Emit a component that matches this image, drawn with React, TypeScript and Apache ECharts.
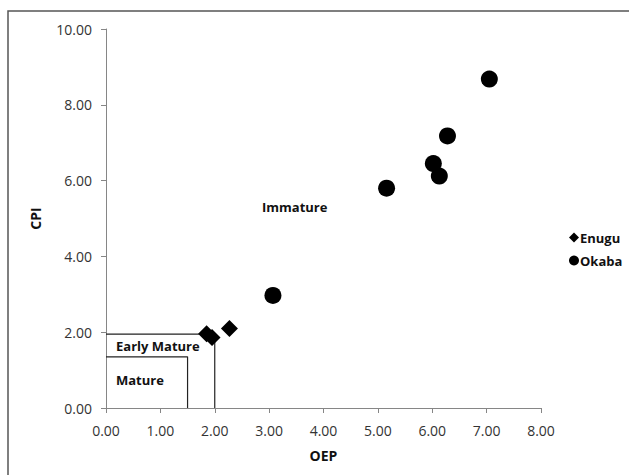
import React, { useEffect, useRef } from "react";
import * as echarts from "echarts";

// Sample points (OEP, CPI)
const enuguPoints: number[][] = [
  [1.85, 1.96],
  [1.95, 1.86],
  [2.27, 2.1],
];
const okabaPoints: number[][] = [
  [3.07, 2.97],
  [5.16, 5.8],
  [6.02, 6.45],
  [6.13, 6.12],
  [6.28, 7.18],
  [7.05, 8.68],
];

// Maturity zone boundaries
const earlyMatureBoundary: number[][] = [
  [0, 1.95],
  [2.0, 1.95],
  [2.0, 0],
];
const matureBoundary: number[][] = [
  [0, 1.35],
  [1.5, 1.35],
  [1.5, 0],
];

const xTicks = { min: 0, max: 8, interval: 1 };
const yTicks = { min: 0, max: 10, interval: 2 };

const FONT = "'Open Sans', sans-serif";

export default function App() {
  const ref = useRef<HTMLDivElement>(null);

  useEffect(() => {
    if (!ref.current) return;
    const chart = echarts.init(ref.current, undefined, { renderer: "svg" });
    const axisLine = { show: true, lineStyle: { color: "#868686", width: 1 } };
    const tick = { show: true, length: 5, inside: false, lineStyle: { color: "#868686" } };
    const tickLabel = {
      formatter: (v: number) => v.toFixed(2),
      fontFamily: FONT,
      fontSize: 14,
      color: "#333",
    };
    const titleStyle = { fontFamily: FONT, fontSize: 14, fontWeight: "bold", color: "#111" };
    chart.setOption({
      animation: false,
      backgroundColor: "#ffffff",
      grid: { left: 106, right: 88, top: 29, bottom: 67 },
      xAxis: {
        type: "value",
        ...xTicks,
        name: "OEP",
        nameLocation: "middle",
        nameGap: 40,
        nameTextStyle: titleStyle,
        axisLine,
        axisTick: tick,
        axisLabel: { ...tickLabel, margin: 15 },
        splitLine: { show: false },
      },
      yAxis: {
        type: "value",
        ...yTicks,
        name: "CPI",
        nameLocation: "middle",
        nameGap: 64,
        nameRotate: 90,
        nameTextStyle: titleStyle,
        axisLine,
        axisTick: tick,
        axisLabel: { ...tickLabel, margin: 14 },
        splitLine: { show: false },
      },
      legend: {
        orient: "vertical",
        left: 564,
        top: 226,
        itemWidth: 10,
        itemHeight: 10,
        itemGap: 10,
        data: [
          { name: "Enugu", icon: "diamond" },
          { name: "Okaba", icon: "circle" },
        ],
        textStyle: { fontFamily: FONT, fontSize: 13, fontWeight: "bold", color: "#111", padding: [0, 0, 0, -4] },
      },
      series: [
        {
          type: "line",
          data: earlyMatureBoundary,
          symbol: "none",
          lineStyle: { color: "#222", width: 1.2 },
          silent: true,
          z: 1,
        },
        {
          type: "line",
          data: matureBoundary,
          symbol: "none",
          lineStyle: { color: "#222", width: 1.2 },
          silent: true,
          z: 1,
        },
        {
          name: "Enugu",
          type: "scatter",
          data: enuguPoints,
          symbol: "diamond",
          symbolSize: 17,
          itemStyle: { color: "#000", opacity: 1 },
          z: 3,
        },
        {
          name: "Okaba",
          type: "scatter",
          data: okabaPoints,
          symbol: "circle",
          symbolSize: 17,
          itemStyle: { color: "#000", opacity: 1 },
          z: 3,
        },
      ],
      graphic: [
        {
          type: "rect",
          shape: { x: 8, y: 11, width: 640, height: 480 },
          style: { fill: "none", stroke: "#555", lineWidth: 1.5 },
          silent: true,
        },
        {
          type: "text",
          x: 262,
          y: 200,
          style: { text: "Immature", fontFamily: FONT, fontSize: 13, fontWeight: "bold", fill: "#111" },
        },
        {
          type: "text",
          x: 116,
          y: 339,
          style: { text: "Early Mature", fontFamily: FONT, fontSize: 13, fontWeight: "bold", fill: "#111" },
        },
        {
          type: "text",
          x: 116,
          y: 373,
          style: { text: "Mature", fontFamily: FONT, fontSize: 13, fontWeight: "bold", fill: "#111" },
        },
      ],
    });
    return () => chart.dispose();
  }, []);

  return (
    <div
      ref={ref}
      style={{ position: "absolute", left: 0, top: 0, width: 629, height: 475 }}
    />
  );
}
